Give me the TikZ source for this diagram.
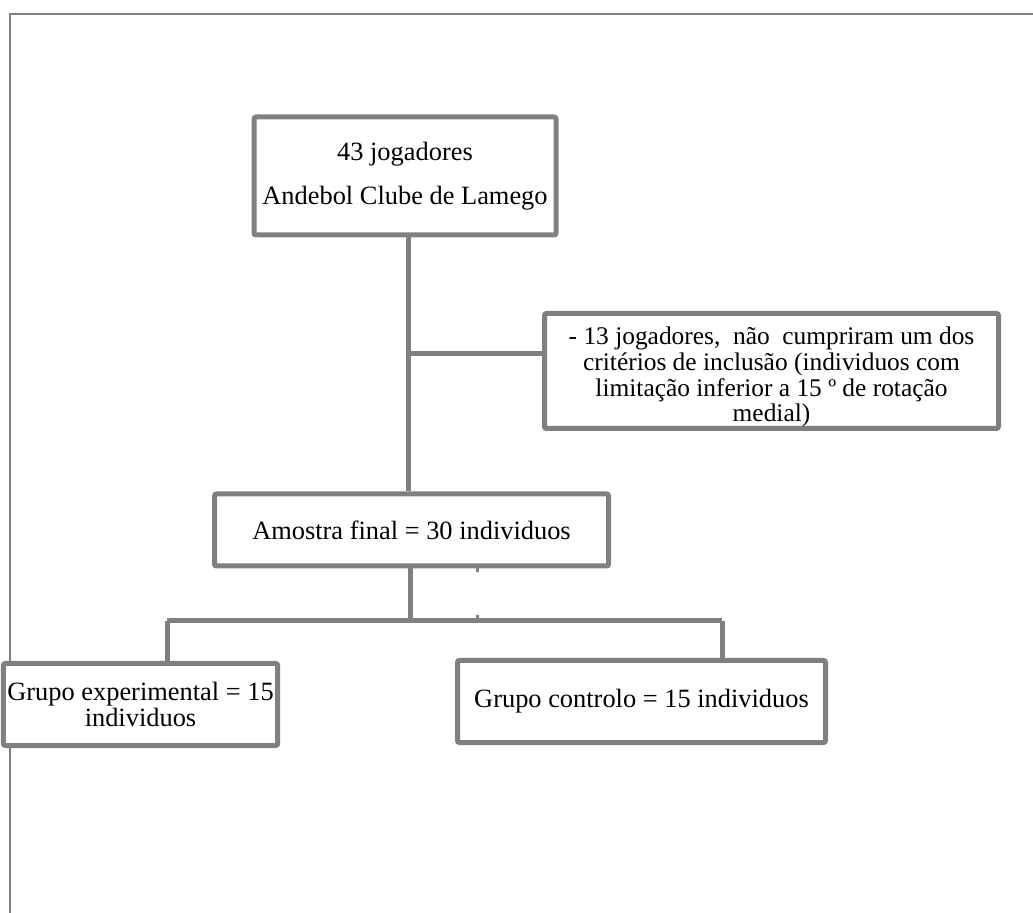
\documentclass[tikz,border=0pt]{standalone}
\usepackage{fontspec}
\setmainfont{Liberation Serif}
\usetikzlibrary{calc}
\definecolor{LineClr}{rgb}{0.5,0.5,0.5}

\begin{document}
\begin{tikzpicture}[x=0.5pt,y=-0.5pt,
  box/.style={draw=LineClr,line width=2.5pt,fill=white,rounded corners=1pt,
    align=center,inner sep=2pt,font=\fontsize{13.2}{15.8}\selectfont},
  boxtext/.style={align=center,inner sep=0pt},
  link/.style={draw=LineClr,line width=2.5pt},
  frameline/.style={draw=LineClr,line width=1pt},
  tickline/.style={draw=LineClr,line width=1.5pt}]
\useasboundingbox (0,0) rectangle (1033,913);

\coordinate (frameTL) at (10,14);
\coordinate (frameTR) at (1033,14);
\coordinate (frameBL) at (10,913);
\draw[frameline] (frameTR) -- (frameTL) -- (frameBL);

\node[box,minimum width=151pt,minimum height=59pt,
  font=\fontsize{13.2}{22}\selectfont] (top) at (405,176)
  {43 jogadores\\Andebol Clube de Lamego};
\node[box,minimum width=227pt,minimum height=57.5pt] (excl) at (771.5,371) {};
\node[boxtext,font=\fontsize{12.7}{12.9}\selectfont] (exclText)
  at ($(excl.center)+(0,6)$)
  {- 13 jogadores,\ \ não\ \ cumpriram um dos\\
   critérios de inclusão (individuos com\\
   limitação inferior a 15 º de rotação\\
   medial)};
\node[box,minimum width=197pt,minimum height=36pt] (amostra) at (411.5,530)
  {Amostra final = 30 individuos};
\node[box,minimum width=130pt,minimum height=41pt,
  font=\fontsize{13.2}{13}\selectfont] (exp) at (140.5,704.5)
  {Grupo experimental = 15\\individuos};
\node[box,minimum width=184pt,minimum height=41pt] (ctrl) at (641.5,701.5)
  {Grupo controlo = 15 individuos};

\coordinate (splitA) at (408,354);
\coordinate (splitB) at (410,621);
\coordinate (legL) at (167,621);
\coordinate (legR) at (722,621);
\coordinate (tickA) at (477,566);
\coordinate (tickB) at (477,621);

\draw[link] (top.south -| splitA) -- (amostra.north -| splitA);
\draw[link] (splitA) -- (splitA -| excl.west);
\draw[link] (amostra.south -| splitB) -- (splitB);
\draw[link] (legL) -- (legR);
\draw[link] (legL) -- (legL |- exp.north);
\draw[link] (legR) -- (legR |- ctrl.north);
\draw[tickline] (tickA) -- ++(0,6);
\draw[tickline] (tickB) -- ++(0,-6);

\end{tikzpicture}
\end{document}
